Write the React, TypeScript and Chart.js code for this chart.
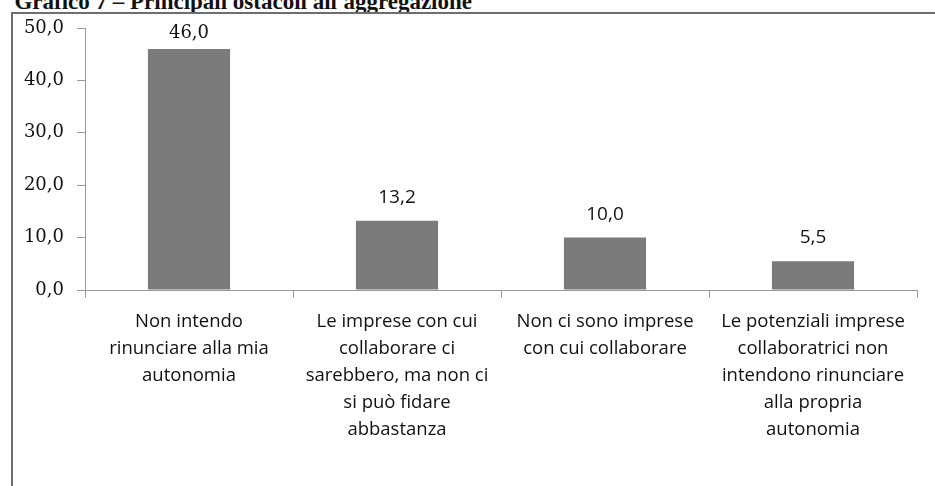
import React, { useEffect, useRef } from "react";
import { Chart, registerables } from "chart.js";

Chart.register(...registerables);

const TITLE = "Grafico 7 – Principali ostacoli all'aggregazione";
const categories: string[][] = [
  ["Non intendo", "rinunciare alla mia", "autonomia"],
  ["Le imprese con cui", "collaborare ci", "sarebbero, ma non ci", "si può fidare", "abbastanza"],
  ["Non ci sono imprese", "con cui collaborare"],
  ["Le potenziali imprese", "collaboratrici non", "intendono rinunciare", "alla propria", "autonomia"],
];
const values: number[] = [46.0, 13.2, 10.0, 5.5];
const yTicks: number[] = [0, 10, 20, 30, 40, 50];

const fmt = (v: number) => v.toFixed(1).replace(".", ",");

const W = 935;
const H = 486;

const labelPlugin = {
  id: "barLabels",
  afterDatasetsDraw(chart: any) {
    const ctx = chart.ctx;
    const meta = chart.getDatasetMeta(0);
    ctx.save();
    ctx.textAlign = "center";
    ctx.textBaseline = "alphabetic";
    ctx.fillStyle = "#111";
    meta.data.forEach((bar: any, i: number) => {
      ctx.font = i === 0 ? "18px 'DejaVu Serif'" : "19px 'Open Sans'";
      const y = Math.max(bar.y - 18, chart.chartArea.top + 10);
      ctx.fillText(fmt(values[i]), bar.x, y);
    });
    ctx.restore();
  },
};

export default function App() {
  const ref = useRef<HTMLCanvasElement | null>(null);
  useEffect(() => {
    if (!ref.current) return;
    const chart = new Chart(ref.current, {
      type: "bar",
      data: {
        labels: categories,
        datasets: [
          {
            data: values,
            backgroundColor: "#7b7b7b",
            borderWidth: 0,
            barPercentage: 0.79,
            categoryPercentage: 0.5,
          },
        ],
      },
      options: {
        responsive: false,
        animation: false,
        devicePixelRatio: 1,
        layout: { padding: { left: 0, top: 28, right: W - 917, bottom: 0 } },
        plugins: {
          legend: { display: false },
          tooltip: { enabled: false },
          title: { display: false },
        },
        scales: {
          x: {
            offset: true,
            grid: {
              offset: true,
              drawOnChartArea: false,
              drawTicks: true,
              tickLength: 8,
              color: "#9a9a9a",
            },
            border: { display: true, color: "#9a9a9a", width: 1 },
            ticks: {
              color: "#111",
              padding: 10,
              maxRotation: 0,
              minRotation: 0,
              autoSkip: false,
              font: { family: "'Open Sans'", size: 18.5, lineHeight: "27px" },
            },
            afterFit: (scale: any) => {
              scale.height = H - 290;
            },
          },
          y: {
            min: 0,
            max: 50,
            afterBuildTicks: (scale: any) => {
              scale.ticks = yTicks.map((v) => ({ value: v }));
            },
            grid: {
              drawOnChartArea: false,
              drawTicks: true,
              tickLength: 8,
              color: "#9a9a9a",
            },
            border: { display: true, color: "#9a9a9a", width: 1 },
            ticks: {
              color: "#111",
              padding: 13,
              font: { family: "'DejaVu Serif'", size: 18 },
              callback: (v: any) => fmt(Number(v)),
            },
            afterFit: (scale: any) => {
              scale.width = 85;
            },
          },
        },
      },
      plugins: [labelPlugin],
    });
    return () => chart.destroy();
  }, []);

  return (
    <div
      style={{
        position: "fixed",
        left: 0,
        top: 0,
        width: W,
        height: H,
        background: "#fff",
        overflow: "hidden",
      }}
    >
      <div
        style={{
          position: "absolute",
          right: W - 472,
          top: -10,
          whiteSpace: "nowrap",
          fontFamily: "'Liberation Serif', serif",
          fontWeight: "bold",
          fontSize: 23,
          lineHeight: "23px",
          color: "#111",
        }}
      >
        {TITLE}
      </div>
      <div
        style={{
          position: "absolute",
          left: 11,
          top: 12,
          width: W + 10,
          height: H + 10,
          border: "2px solid #6e6e6e",
          boxSizing: "border-box",
        }}
      />
      <canvas
        ref={ref}
        width={W}
        height={H}
        style={{ position: "absolute", left: 0, top: 0, width: W, height: H }}
      />
    </div>
  );
}
